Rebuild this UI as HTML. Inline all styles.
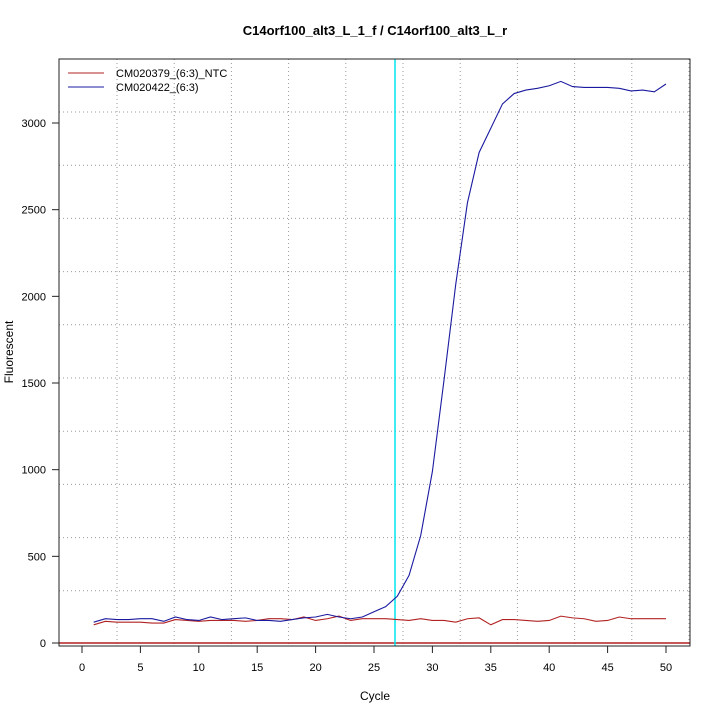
<!DOCTYPE html>
<html><head><style>body{margin:0;background:#fff}svg{display:block;font-family:"Liberation Sans",sans-serif}</style></head>
<body>
<svg id="s" width="720" height="720" xmlns="http://www.w3.org/2000/svg">
<rect width="720" height="720" fill="#fff"/>
<text x="375" y="35" text-anchor="middle" font-size="13" font-weight="bold">C14orf100_alt3_L_1_f / C14orf100_alt3_L_r</text>
<g id="grid" stroke="#999" stroke-dasharray="1,3" stroke-width="1"></g>
<line x1="59" y1="643" x2="690" y2="643" stroke="#b22222" stroke-width="1.5"/>
<line x1="395" y1="59" x2="395" y2="646" stroke="#00e5ee" stroke-width="1.5"/>
<polyline id="red" fill="none" stroke="#b22222" stroke-width="1.1"/>
<polyline id="blue" fill="none" stroke="#1a1aa0" stroke-width="1.1"/>
<rect x="59" y="59" width="631" height="587" fill="none" stroke="#222" stroke-width="1"/>
<g id="ax" stroke="#222" font-size="11"></g>
<line x1="68" y1="73" x2="104" y2="73" stroke="#b22222"/>
<line x1="68" y1="87" x2="104" y2="87" stroke="#1a1aa0"/>
<text x="116" y="77" font-size="11">CM020379_(6:3)_NTC</text>
<text x="116" y="91" font-size="11">CM020422_(6:3)</text>
<text x="375" y="700" text-anchor="middle" font-size="12">Cycle</text>
<text transform="translate(13,352) rotate(-90)" text-anchor="middle" font-size="12">Fluorescent</text>
</svg>
<script>
const X=c=>82+c*11.68,Y=v=>643-v*0.17333;
const blue=[120,140,135,135,140,140,125,150,135,130,150,135,140,145,130,130,125,135,145,150,165,150,140,150,180,210,270,390,620,990,1520,2070,2540,2830,2970,3110,3170,3190,3200,3215,3240,3210,3205,3205,3205,3200,3185,3190,3180,3225];
const red=[105,125,120,120,120,115,115,135,130,125,130,130,130,125,130,140,140,135,150,130,140,155,130,140,140,140,135,130,140,130,130,120,140,145,105,135,135,130,125,130,155,145,140,125,130,150,140,140,140,140];
document.getElementById('blue').setAttribute('points',blue.map((v,i)=>X(i+1)+','+Y(v)).join(' '));
document.getElementById('red').setAttribute('points',red.map((v,i)=>X(i+1)+','+Y(v)).join(' '));
const ns='http://www.w3.org/2000/svg';
function el(p,t,a,txt){const e=document.createElementNS(ns,t);for(const k in a)e.setAttribute(k,a[k]);if(txt!==undefined)e.textContent=txt;p.appendChild(e);}
const g=document.getElementById('grid');
for(let x=117;x<690;x+=57.2)el(g,'line',{x1:x,y1:59,x2:x,y2:646});
for(let y=112;y<640;y+=53.2)el(g,'line',{x1:59,y1:y,x2:690,y2:y});
const ax=document.getElementById('ax');
for(let c=0;c<=50;c+=5){el(ax,'line',{x1:X(c),y1:646,x2:X(c),y2:653});el(ax,'text',{x:X(c),y:671,'text-anchor':'middle',stroke:'none'},c);}
for(let v=0;v<=3000;v+=500){el(ax,'line',{x1:52,y1:Y(v),x2:59,y2:Y(v)});el(ax,'text',{x:46,y:Y(v)+4,'text-anchor':'end',stroke:'none'},v);}
</script>
</body></html>
